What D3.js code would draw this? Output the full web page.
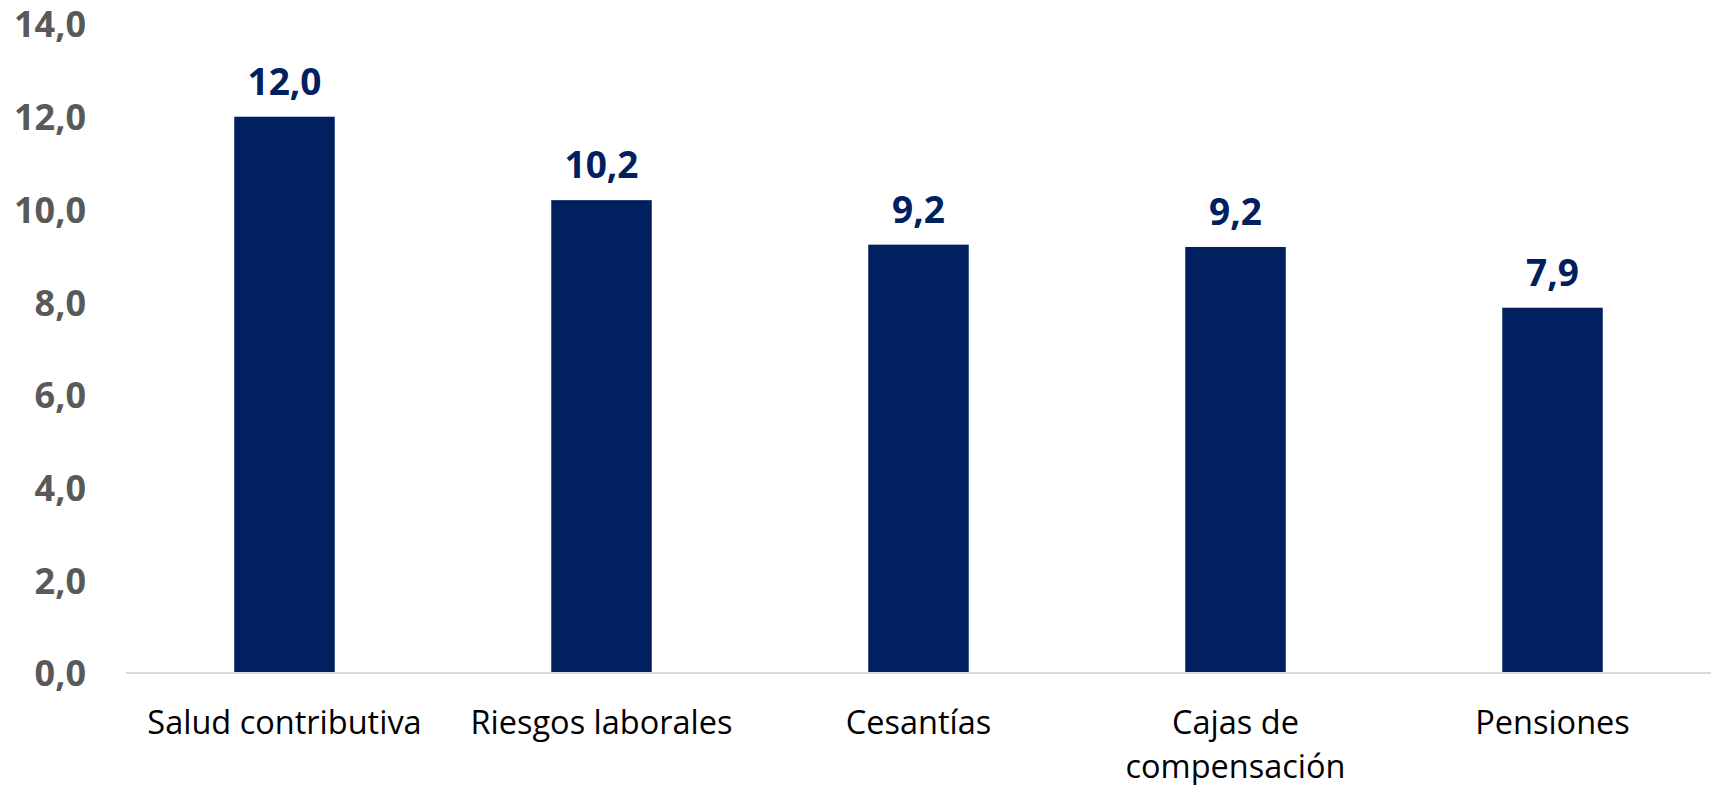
<!DOCTYPE html>
<html>
<head>
<meta charset="utf-8">
<script src="https://cdn.jsdelivr.net/npm/d3@7"></script>
<style>
  html, body { margin: 0; padding: 0; background: #ffffff; }
  svg { display: block; }
</style>
</head>
<body>
<svg id="chart" width="1711" height="785"></svg>
<script>
// Data
const categories = ["Salud contributiva", "Riesgos laborales", "Cesantías", "Cajas de compensación", "Pensiones"];
const values = [12.0, 10.2, 9.24, 9.19, 7.88];
const yTicks = [0, 2, 4, 6, 8, 10, 12, 14];

const W = 1711, H = 785;
const margin = { left: 126, right: 0, top: 24, bottom: 112 };
const svg = d3.select("#chart");

const x = d3.scaleBand()
  .domain(categories)
  .range([margin.left, W - margin.right])
  .paddingInner(0.683)
  .paddingOuter(0.3415);

const y = d3.scaleLinear()
  .domain([0, 14])
  .range([H - margin.bottom, margin.top]);

const fmt = v => d3.format(".1f")(v).replace(".", ",");

// Y axis (labels only)
const yAxis = d3.axisLeft(y).tickValues(yTicks).tickFormat(fmt).tickSize(0).tickPadding(0);
const gy = svg.append("g").attr("transform", `translate(86,0)`).call(yAxis);
gy.select(".domain").remove();
gy.selectAll("text")
  .attr("fill", "#595959")
  .style("font-family", "'Open Sans', sans-serif")
  .style("font-weight", "700")
  .style("font-size", "36px")
  .attr("dy", "0.36em");

// Bars
svg.append("g").selectAll("rect")
  .data(categories)
  .join("rect")
  .attr("x", d => x(d))
  .attr("y", (d, i) => y(values[i]))
  .attr("width", x.bandwidth())
  .attr("height", (d, i) => y(0) - y(values[i]))
  .attr("fill", "#002060");

// Baseline
svg.append("line")
  .attr("x1", margin.left).attr("x2", W - margin.right)
  .attr("y1", y(0)).attr("y2", y(0))
  .attr("stroke", "#d9d9d9").attr("stroke-width", 2);

// Value labels
svg.append("g").selectAll("text")
  .data(categories)
  .join("text")
  .attr("x", d => x(d) + x.bandwidth() / 2)
  .attr("y", (d, i) => y(values[i]) - 22)
  .attr("text-anchor", "middle")
  .attr("fill", "#002060")
  .style("font-family", "'Open Sans', sans-serif")
  .style("font-weight", "700")
  .style("font-size", "37px")
  .text((d, i) => fmt(values[i]));

// X axis labels with wrapping
const xAxis = d3.axisBottom(x).tickSize(0).tickPadding(0);
const gx = svg.append("g").attr("transform", `translate(0,${y(0)})`).call(xAxis);
gx.select(".domain").remove();
gx.selectAll("text")
  .attr("fill", "#000000")
  .attr("dy", null)
  .attr("y", 0)
  .style("font-family", "'Open Sans', sans-serif")
  .style("font-weight", "400")
  .style("font-size", "32.5px")
  .each(function (d) {
    const t = d3.select(this);
    const words = d.split(" ");
    t.text(null);
    const maxW = 300;
    let line = [];
    const lines = [];
    const probe = t.append("tspan");
    words.forEach(w => {
      line.push(w);
      probe.text(line.join(" "));
      if (probe.node().getComputedTextLength() > maxW && line.length > 1) {
        line.pop();
        lines.push(line.join(" "));
        line = [w];
        probe.text(w);
      }
    });
    lines.push(line.join(" "));
    t.text(null);
    lines.forEach((l, i) => {
      t.append("tspan").attr("x", 0).attr("y", 61 + i * 44).attr("dy", 0).text(l);
    });
  });
</script>
</body>
</html>
